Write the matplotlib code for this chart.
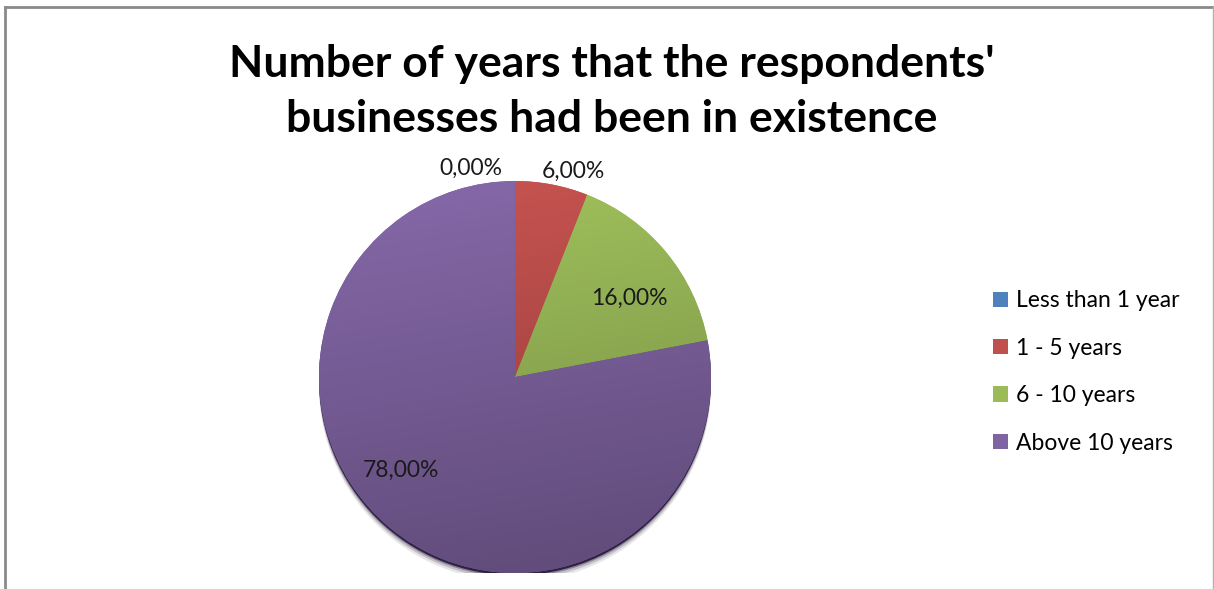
import matplotlib

matplotlib.use("Agg")
import matplotlib.pyplot as plt
import numpy as np
from matplotlib.colors import to_rgb
from matplotlib.lines import Line2D
from matplotlib.patches import Circle, Patch

categories = ["Less than 1 year", "1 - 5 years", "6 - 10 years", "Above 10 years"]
shares = [0.0, 6.0, 16.0, 78.0]
colors = ["#4F81BD", "#C0504D", "#9BBB59", "#8064A2"]
title_lines = ["Number of years that the respondents'",
               "businesses had been in existence"]

plt.rcParams["font.family"] = ["Lato", "DejaVu Sans"]

W, H = 1214, 589
fig = plt.figure(figsize=(W / 100, H / 100), dpi=100)

# chart frame (Excel chart area border, cut off at the bottom)
fig.add_artist(Line2D([5 / W, 5 / W], [0, 1 - 7 / H], color="#8a8a8a", lw=2))
fig.add_artist(Line2D([5 / W, 1213 / W], [1 - 7 / H, 1 - 7 / H], color="#8a8a8a", lw=2))
fig.add_artist(Line2D([1212.5 / W, 1212.5 / W], [0, 1 - 7 / H], color="#b0b0b0", lw=1))

for line, ypix in zip(title_lines, [64, 119]):
    fig.text(612 / W, 1 - ypix / H, line, ha="center", va="center",
             fontsize=32, fontweight="bold")

# pie axes, square in pixels
cx, cy, r = 515, 377, 196
ax = fig.add_axes([(cx - r) / W, (H - cy - r) / H, 2 * r / W, 2 * r / H])
ax.set_xlim(-1, 1)
ax.set_ylim(-1, 1)
ax.axis("off")

# soft shadow / dark rim under the pie
for dy, a in [(0.045, 0.10), (0.032, 0.18), (0.02, 0.35)]:
    ax.add_patch(Circle((0, -dy), 1.0, color="#1e1230", alpha=a, lw=0, zorder=0))
ax.add_patch(Circle((0, -0.012), 1.0, color="#2f2145", lw=0, zorder=0.5))

wedges, _ = ax.pie(shares, colors=colors, startangle=90, counterclock=False,
                   radius=1.0, wedgeprops=dict(linewidth=0))
for w in wedges:
    w.set_zorder(1)

# vertical light-to-dark gradient clipped to each wedge
yy, xx = np.mgrid[1:-1:300j, -1:1:300j]
t = np.clip((1 - yy) / 2 * 0.85 + (xx + 1) / 2 * 0.15, 0, 1)[..., None]
for w, c in zip(wedges, colors):
    base = np.array(to_rgb(c))
    top = np.clip(base * 1.05, 0, 1)
    bot = base * 0.74
    img = top * (1 - t) + bot * t
    im = ax.imshow(img, extent=[-1, 1, -1, 1], zorder=2, interpolation="bilinear")
    im.set_clip_path(w)
ax.set_xlim(-1, 1)
ax.set_ylim(-1, 1)

# data labels, positioned from each wedge's mid angle
label_radius = [1.09, 1.09, 0.71, 0.75]
label_shift = [12, -5, -5, -11]
for w, v, rr, sh in zip(wedges, shares, label_radius, label_shift):
    ang = np.deg2rad((w.theta1 + w.theta2) / 2 + sh)
    ax.text(rr * np.cos(ang), rr * np.sin(ang), f"{v:.2f}%".replace(".", ","),
            ha="center", va="center", fontsize=16.5, color="#1a1a1a", zorder=5,
            clip_on=False)

handles = [Patch(facecolor=c, edgecolor="none") for c in colors]
fig.legend(handles, categories, loc="center left",
           bbox_to_anchor=(972 / W, 1 - 372 / H), frameon=False,
           fontsize=16.5, handlelength=0.65, handleheight=0.65,
           handletextpad=0.35, labelspacing=1.15)

fig.savefig("out.png", dpi=100, facecolor="white")
